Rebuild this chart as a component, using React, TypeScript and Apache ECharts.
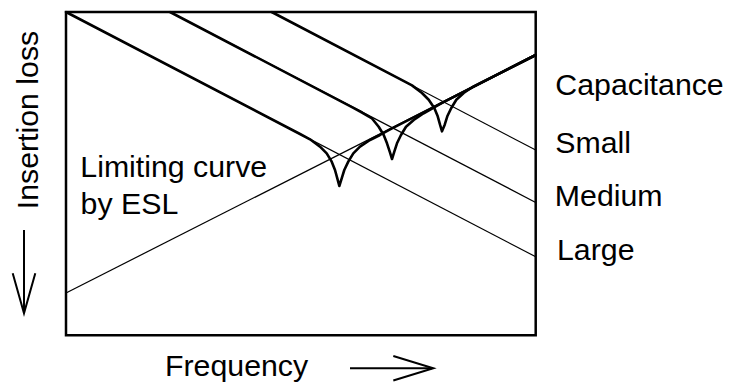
import React, { useEffect, useRef } from "react";
import * as echarts from "echarts";

// Schematic units: x = log frequency (0..100), y = insertion loss (0..100, grows downward)
const ESL_LIMIT: number[][] = [[0, 86.9], [100, 13.3]];
const LARGE_ASYMPTOTE: number[][] = [[0, 0], [100, 75.7]];
const MEDIUM_ASYMPTOTE: number[][] = [[22.14, 0], [100, 58.9]];
const SMALL_ASYMPTOTE: number[][] = [[43.79, 0], [100, 42.7]];

const LARGE_CURVE: number[][] = [
  [0, 0], [49.82, 37.74], [51.95, 39.38], [54.08, 41.66], [55.5, 43.71],
  [56.57, 46.3], [57.27, 48.87], [57.76, 51.44], [58.19, 53.82],
  [58.7, 51.44], [59.25, 48.87], [60.1, 46.3], [61.17, 43.71],
  [62.59, 41.66], [64.72, 39.59], [66.85, 38.04], [69.0, 36.3], [100, 13.3],
];
const MEDIUM_CURVE: number[][] = [
  [22.14, 0], [60.89, 29.4], [63.02, 31.09], [65.15, 32.94], [66.57, 35.48],
  [67.64, 38.04], [68.34, 40.61], [68.92, 43.21], [69.41, 45.47],
  [69.9, 43.21], [70.47, 40.61], [71.32, 38.04], [72.39, 35.48],
  [74.03, 33.41], [76.15, 31.33], [77.92, 29.85], [80.05, 28.1], [100, 13.3],
];
const SMALL_CURVE: number[][] = [
  [43.79, 0], [71.54, 21.1], [73.66, 22.7], [75.79, 25.05], [77.22, 27.13],
  [78.41, 29.69], [79.14, 32.26], [79.63, 34.86], [80.05, 36.9],
  [80.63, 34.86], [81.18, 32.26], [82.03, 29.69], [83.1, 27.13],
  [84.67, 25.05], [86.8, 22.98], [88.57, 21.7], [90.7, 20.14], [100, 13.3],
];

const CAPACITANCE_TITLE = "Capacitance";
const CAPACITANCE_NAMES = ["Small", "Medium", "Large"];
const ESL_LABEL = ["Limiting curve", "by ESL"];
const X_TITLE = "Frequency";
const Y_TITLE = "Insertion loss";

const FONT = 'Arial, "Liberation Sans", Helvetica, sans-serif';
const FS = 30.3;

export default function App() {
  const ref = useRef<HTMLDivElement>(null);
  useEffect(() => {
    if (!ref.current) return;
    const chart = echarts.init(ref.current, undefined, { renderer: "svg" });
    const thin = (name: string, data: number[][]) => ({
      name, type: "line", data, symbol: "none", silent: true,
      lineStyle: { color: "#000", width: 1.2 },
    });
    const thick = (name: string, data: number[][]) => ({
      name, type: "line", data, symbol: "none", silent: true,
      lineStyle: { color: "#000", width: 2.6, join: "round", cap: "round" },
    });
    const txt = (text: string, x: number, y: number, extra: any = {}) => ({
      type: "text", x, y, silent: true,
      style: { text, fill: "#000", font: `${FS}px ${FONT}`, fontSize: FS, fontFamily: FONT, align: "left", verticalAlign: "middle" },
      ...extra,
    });
    chart.setOption({
      animation: false,
      backgroundColor: "#fff",
      grid: { left: 66, right: 194.3, top: 12, bottom: 50.7, show: true, borderColor: "#000", borderWidth: 2.5, backgroundColor: "transparent" },
      xAxis: { type: "value", min: 0, max: 100, show: false },
      yAxis: { type: "value", min: 0, max: 100, inverse: true, show: false },
      series: [
        thin("ESL", ESL_LIMIT),
        thin("Large asymptote", LARGE_ASYMPTOTE),
        thin("Medium asymptote", MEDIUM_ASYMPTOTE),
        thin("Small asymptote", SMALL_ASYMPTOTE),
        thick("Large", LARGE_CURVE),
        thick("Medium", MEDIUM_CURVE),
        thick("Small", SMALL_CURVE),
      ],
      graphic: [
        txt(CAPACITANCE_TITLE, 555.3, 84),
        txt(CAPACITANCE_NAMES[0], 555.3, 142),
        txt(CAPACITANCE_NAMES[1], 554.8, 195.5),
        txt(CAPACITANCE_NAMES[2], 557, 249),
        txt(ESL_LABEL[0], 80.3, 166.7),
        txt(ESL_LABEL[1], 80.6, 203.3),
        txt(X_TITLE, 165, 365.7),
        {
          type: "text", x: 27, y: 120, rotation: Math.PI / 2, silent: true,
          style: { text: Y_TITLE, fill: "#000", font: `${FS}px ${FONT}`, fontSize: FS, fontFamily: FONT, align: "center", verticalAlign: "middle" },
        },
        { type: "line", silent: true, shape: { x1: 350, y1: 368.3, x2: 432, y2: 368.3 }, style: { stroke: "#000", lineWidth: 2 } },
        { type: "polyline", silent: true, shape: { points: [[393.3, 356], [433.3, 368.3], [393.3, 380.5]] }, style: { stroke: "#000", lineWidth: 2, fill: "none" } },
        { type: "line", silent: true, shape: { x1: 24, y1: 230, x2: 24, y2: 312 }, style: { stroke: "#000", lineWidth: 2 } },
        { type: "polyline", silent: true, shape: { points: [[12.7, 273.3], [24, 313.3], [35.3, 273.3]] }, style: { stroke: "#000", lineWidth: 2, fill: "none" } },
      ],
    });
    return () => chart.dispose();
  }, []);
  return <div ref={ref} style={{ position: "fixed", left: 0, top: 0, width: 730, height: 386, background: "#fff" }} />;
}
